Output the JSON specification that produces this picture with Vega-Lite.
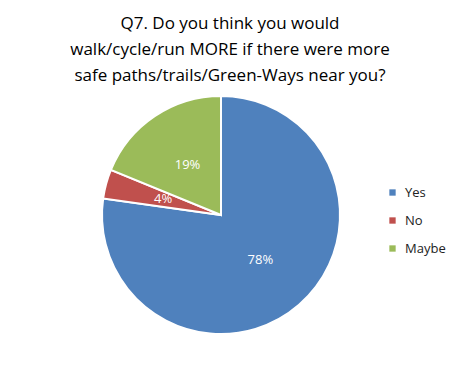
{
  "$schema": "https://vega.github.io/schema/vega-lite/v6.json",
  "width": 238,
  "height": 238,
  "autosize": {"type": "none"},
  "padding": {"left": 102, "top": 96, "right": 119, "bottom": 45},
  "background": "white",
  "title": {
    "text": ["Q7. Do you think you would", "walk/cycle/run MORE if there were more", "safe paths/trails/Green-Ways near you?"],
    "font": "Open Sans",
    "fontSize": 17,
    "fontWeight": "normal",
    "color": "#000000",
    "lineHeight": 26,
    "anchor": "middle",
    "dx": 9,
    "offset": 7
  },
  "data": {
    "values": [
      {"answer": "Yes", "value": 78, "label": "78%", "rank": 1},
      {"answer": "No", "value": 4, "label": "4%", "rank": 2},
      {"answer": "Maybe", "value": 19, "label": "19%", "rank": 3}
    ]
  },
  "encoding": {
    "theta": {"field": "value", "type": "quantitative", "stack": true},
    "order": {"field": "rank", "type": "quantitative"},
    "color": {
      "field": "answer",
      "type": "nominal",
      "sort": ["Yes", "No", "Maybe"],
      "scale": {"domain": ["Yes", "No", "Maybe"], "range": ["#4F81BD", "#C0504D", "#9BBB59"]},
      "legend": {
        "title": null,
        "orient": "none",
        "legendX": 284,
        "legendY": 90,
        "symbolType": "square",
        "symbolSize": 40,
        "symbolStrokeWidth": 0,
        "labelFont": "Open Sans",
        "labelFontSize": 13,
        "labelColor": "#222222",
        "rowPadding": 14,
        "labelOffset": 6
      }
    }
  },
  "layer": [
    {"mark": {"type": "arc", "stroke": "white", "strokeWidth": 2}},
    {
      "mark": {"type": "text", "radius": 60, "fill": "white", "font": "Open Sans", "fontSize": 13},
      "encoding": {"text": {"field": "label"}, "color": {"value": "white"}}
    }
  ],
  "config": {"view": {"stroke": null}}
}
